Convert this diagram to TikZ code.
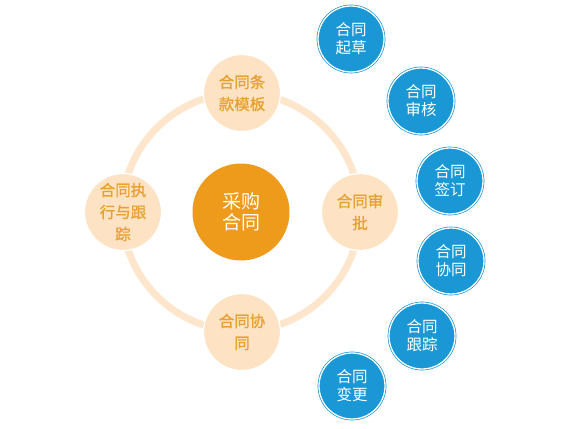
\documentclass[tikz,border=0pt]{standalone}
\usepackage{fontspec}
\newfontfamily\cjk{Noto Sans CJK SC}
\newfontfamily\cjkb[FakeBold=1]{Noto Sans CJK SC}
\definecolor{peach}{HTML}{FDE3C4}
\definecolor{ringc}{HTML}{FDE6CC}
\definecolor{ortext}{HTML}{E9A02E}
\definecolor{orcore}{HTML}{EE9A1A}
\definecolor{bluec}{HTML}{1A97D5}
\tikzset{
  core/.style={circle, fill=orcore, minimum size=97pt, inner sep=0pt, align=center,
    text=white, font=\cjk\fontsize{19}{21}\selectfont},
  phase/.style={circle, fill=peach, draw=white, line width=1.2pt, minimum size=77pt, inner sep=0pt,
    align=center, text=ortext, font=\cjkb\fontsize{15.5}{22}\selectfont},
  task/.style={circle, fill=bluec, minimum size=66pt, inner sep=0pt, align=center,
    text=white, font=\cjk\fontsize{15.5}{18}\selectfont,
    double=white, double distance=1.3pt, draw=bluec, line width=0.7pt},
  ringline/.style={draw=ringc, line width=7pt}
}
\begin{document}
\begin{tikzpicture}[x=1pt,y=-1pt]
\useasboundingbox (0,0) rectangle (588,428);
\fill[white] (0,0) rectangle (588,428);
\coordinate (ctr) at (241,212);
\draw[ringline] (ctr) circle[radius=119];
\node[core] (core) at (ctr) {采购\\合同};
\node[phase] (top) at (242,93) {合同条\\款模板};
\node[phase] (right) at (360,212) {合同审\\批};
\node[phase] (bottom) at (242,332) {合同协\\同};
\node[phase] (left) at (123,212) {合同执\\行与跟\\踪};
\node[task] (t1) at (351,39) {合同\\起草};
\node[task] (t2) at (421,101) {合同\\审核};
\node[task] (t3) at (450,181) {合同\\签订};
\node[task] (t4) at (451,261) {合同\\协同};
\node[task] (t5) at (422,336) {合同\\跟踪};
\node[task] (t6) at (352,386) {合同\\变更};
\end{tikzpicture}
\end{document}
